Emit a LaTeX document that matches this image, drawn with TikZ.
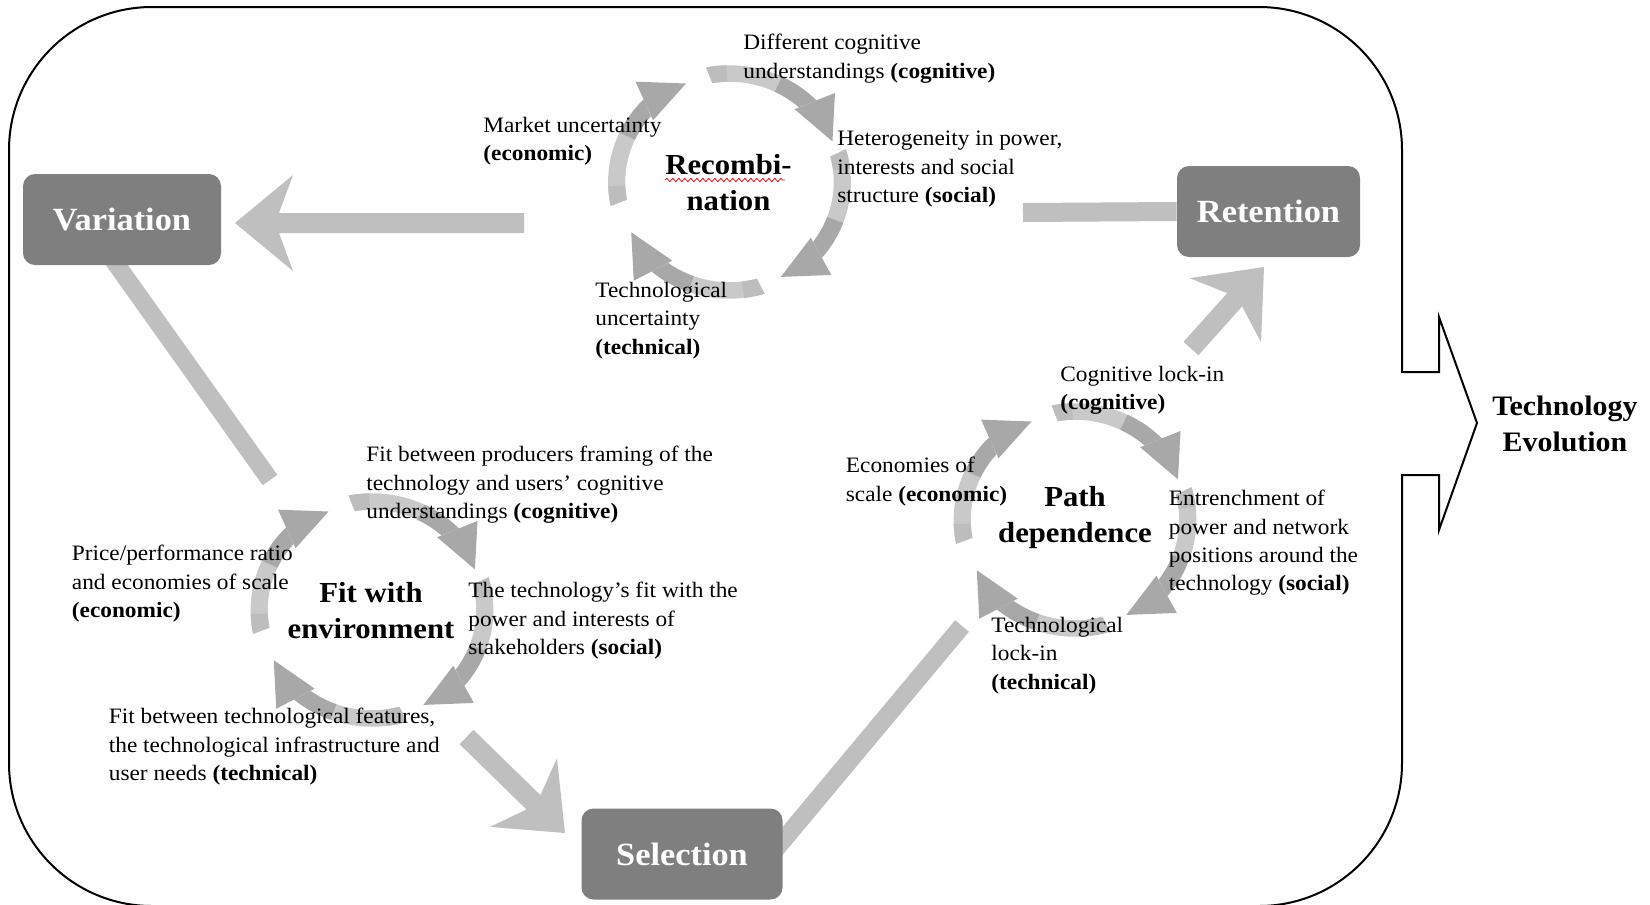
\documentclass[tikz,border=0pt]{standalone}
\usepackage{fontspec}
\setmainfont{Liberation Serif}[FakeStretch=1.06]
\usetikzlibrary{calc,decorations.pathmorphing}

\definecolor{boxgray}{HTML}{7F7F7F}
\definecolor{arrowgray}{HTML}{BFBFBF}
\definecolor{ringlight}{HTML}{C9C9C9}
\definecolor{ringmid}{HTML}{BDBDBD}
\definecolor{ringdark}{HTML}{A8A8A8}

% one curved segment of a cycle, starting at angle #1 and running clockwise
\newcommand\cycleseg[1]{%
  \fill[ringlight] ({#1+0.8}:116.75) arc[start angle={#1+0.8}, end angle={#1-56}, radius=116.75]
    -- ({#1-52}:100.25) arc[start angle={#1-52}, end angle={#1-0.8}, radius=100.25] -- cycle;
  \fill[ringmid] ({#1+0.8}:116.75) arc[start angle={#1+0.8}, end angle={#1-9}, radius=116.75]
    -- ({#1-9}:100.25) arc[start angle={#1-9}, end angle={#1-0.8}, radius=100.25] -- cycle;
  \fill[ringdark] ({#1-36}:116.75) arc[start angle={#1-36}, end angle={#1-56}, radius=116.75]
    -- ({#1-52}:100.25) arc[start angle={#1-52}, end angle={#1-36}, radius=100.25] -- cycle;
  \fill[ringdark] ({#1-51}:96) -- ({#1-78}:107) -- ({#1-59}:135) -- cycle;
}

% broad block arrow from tail #1 to tip #2
\newcommand\blockarrow[2]{%
  \coordinate (ba-n) at ($(#2)!22pt!(#1)$);
  \coordinate (ba-b) at ($(#2)!29pt!(#1)$);
  \fill[arrowgray] ($(#1)!5pt!90:(#2)$) -- ($(ba-n)!5pt!90:(#2)$) -- ($(ba-b)!24pt!90:(#2)$)
    -- (#2) -- ($(ba-b)!24pt!-90:(#2)$) -- ($(ba-n)!5pt!-90:(#2)$) -- ($(#1)!5pt!-90:(#2)$) -- cycle;
}

\tikzset{
  stagebox/.style={fill=boxgray, rounded corners=6pt, text=white, inner sep=0pt,
    font=\fontsize{16.2}{19}\selectfont\bfseries, minimum width=#1, minimum height=45.5pt},
  note/.style={anchor=north west, align=left, inner sep=0pt, font=\fontsize{11}{14.15}\selectfont},
  cycletitle/.style={align=center, inner sep=0pt, font=\fontsize{14.5}{18}\selectfont\bfseries},
  bar/.style={draw=arrowgray, line width=#1},
  frame/.style={draw=black, line width=1pt, line join=miter},
}

\begin{document}
\begin{tikzpicture}[x=0.5pt, y=0.5pt]
\useasboundingbox (0,0) rectangle (1650,-905);
\clip (0,0) rectangle (1650,-905);

% outer frame with the open arrow on its right side
\draw[frame] (1402,-475) -- (1402,-763) arc[start angle=0, end angle=-90, radius=143]
  -- (152,-906) arc[start angle=270, end angle=180, radius=143]
  -- (9,-150) arc[start angle=180, end angle=90, radius=143]
  -- (1259,-7) arc[start angle=90, end angle=0, radius=143]
  -- (1402,-372) -- (1439,-372) -- (1439,-317) -- (1477,-423) -- (1439,-530) -- (1439,-475) -- cycle;
\node[cycletitle, font=\fontsize{14.1}{18.3}\selectfont\bfseries] (evo) at (1565,-424) {Technology\\Evolution};

% cycle centres
\coordinate (rec) at (729.5,-182);
\coordinate (fit) at (372,-610);
\coordinate (pth) at (1075,-520);

% free ends of the broad connectors
\coordinate (recOut) at (524,-223);
\coordinate (varIn) at (235,-223);
\coordinate (varOut) at (99,-240);
\coordinate (fitIn) at (270,-480);
\coordinate (fitOut) at (466.5,-737);
\coordinate (selIn) at (565,-833);
\coordinate (selOut) at (770,-856);
\coordinate (pthIn) at (962,-626);
\coordinate (pthOut) at (1191,-348.5);
\coordinate (retIn) at (1264,-267);
\coordinate (retOut) at (1023,-212.5);

% connectors
\blockarrow{recOut}{varIn}
\draw[bar=9pt] (varOut) -- (fitIn);
\blockarrow{fitOut}{selIn}
\draw[bar=9pt] (selOut) -- (pthIn);
\blockarrow{pthOut}{retIn}

% stage boxes
\node[stagebox=99pt] (var) at (122,-219.5) {Variation};
\node[stagebox=91.5pt] (ret) at (1268.5,-211.5) {Retention};
\node[stagebox=100.5pt] (sel) at (682,-854) {Selection};
\draw[bar=9.5pt] (retOut) -- (ret.west);

% the three cycles
\begin{scope}[shift={(rec)}, xscale=1.04]
  \cycleseg{100.3}\cycleseg{15.5}\cycleseg{-74}\cycleseg{191}
\end{scope}
\begin{scope}[shift={(fit)}, xscale=1.04]
  \cycleseg{100.3}\cycleseg{15.5}\cycleseg{-74}\cycleseg{191}
\end{scope}
\begin{scope}[shift={(pth)}, xscale=1.04]
  \cycleseg{100.3}\cycleseg{15.5}\cycleseg{-74}\cycleseg{191}
\end{scope}

% recombination
\node[cycletitle] (recT) at (728.5,-183) {Recombi-\\nation};
\draw[red, line width=0.4pt, decorate, decoration={snake, amplitude=0.8pt, segment length=3pt}] (665,-180) -- (785,-180);
\node[note] (recCog) at (743,-34) {Different cognitive\\understandings \textbf{(cognitive)}};
\node[note] (recEco) at (483,-117) {Market uncertainty\\\textbf{(economic)}};
\node[note] (recSoc) at (837,-131) {Heterogeneity in power,\\interests and social\\structure \textbf{(social)}};
\node[note] (recTec) at (595,-282) {Technological\\uncertainty\\\textbf{(technical)}};

% fit with environment
\node[cycletitle] (fitT) at (371,-610.5) {Fit with\\environment};
\node[note] (fitCog) at (366,-446) {Fit between producers framing of the\\technology and users’ cognitive\\understandings \textbf{(cognitive)}};
\node[note] (fitEco) at (71.5,-545) {Price/performance ratio\\and economies of scale\\\textbf{(economic)}};
\node[note] (fitSoc) at (468,-582) {The technology’s fit with the\\power and interests of\\stakeholders \textbf{(social)}};
\node[note] (fitTec) at (108.5,-708) {Fit between technological features,\\the technological infrastructure and\\user needs \textbf{(technical)}};

% path dependence
\node[cycletitle] (pthT) at (1075,-518) {Path\\dependence};
\node[note] (pthCog) at (1060,-366) {Cognitive lock-in\\\textbf{(cognitive)}};
\node[note] (pthEco) at (845.5,-457) {Economies of\\scale \textbf{(economic)}};
\node[note] (pthSoc) at (1168.5,-490) {Entrenchment of\\power and network\\positions around the\\technology \textbf{(social)}};
\node[note] (pthTec) at (991,-617) {Technological\\lock-in\\\textbf{(technical)}};
\end{tikzpicture}
\end{document}
